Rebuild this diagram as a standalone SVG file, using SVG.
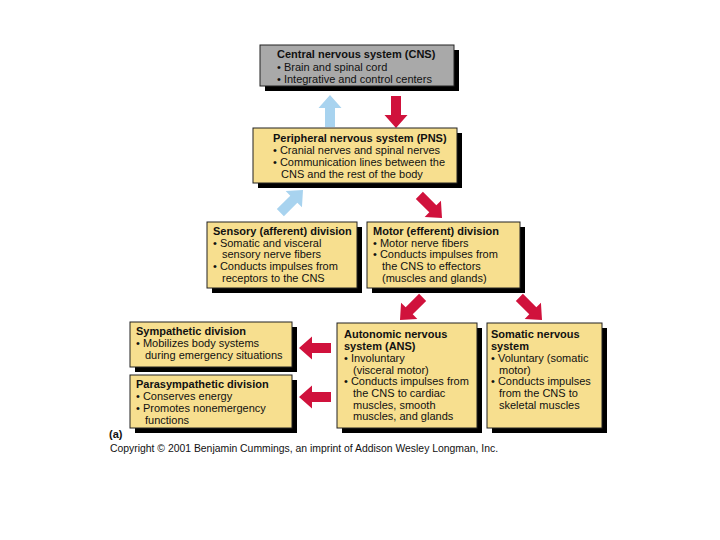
<svg xmlns="http://www.w3.org/2000/svg" xmlns:xlink="http://www.w3.org/1999/xlink" width="720" height="540" viewBox="0 0 720 540">
<style>
text{font-family:"Liberation Sans",Arial,sans-serif;font-size:11px;fill:#111}
.t{font-weight:bold}
.box{fill:#f7df8f;stroke:#222;stroke-width:1}
.gray{fill:#a9a9a9;stroke:#222;stroke-width:1}
.sh{fill:#000}
.red{fill:#d0123c}
.blue{fill:#a8d3ef}
</style>
<defs>
<polygon id="arr" points="0,0 -13,-11.5 -13,-5 -32,-5 -32,5 -13,5 -13,11.5"/>
</defs>
<rect width="720" height="540" fill="#fff"/>

<g id="connectors">
<use xlink:href="#arr" class="blue" transform="translate(330,95) rotate(-90)"/>
<use xlink:href="#arr" class="red" transform="translate(396,128) rotate(90)"/>
<use xlink:href="#arr" class="blue" transform="translate(303,190) rotate(-45)"/>
<use xlink:href="#arr" class="red" transform="translate(442,218) rotate(45)"/>
<use xlink:href="#arr" class="red" transform="translate(400,320) rotate(135)"/>
<use xlink:href="#arr" class="red" transform="translate(542,320) rotate(45)"/>
<use xlink:href="#arr" class="red" transform="translate(299,348) rotate(180)"/>
<use xlink:href="#arr" class="red" transform="translate(299,397) rotate(180)"/>
</g>

<g id="cns">
<rect class="sh" x="265" y="50" width="194" height="41"/>
<rect class="gray" x="260" y="45" width="194" height="41"/>
<text class="t" x="277" y="58">Central nervous system (CNS)</text>
<text x="277" y="71">• Brain and spinal cord</text>
<text x="277" y="83">• Integrative and control centers</text>
</g>

<g id="pns">
<rect class="sh" x="258" y="133" width="204" height="55"/>
<rect class="box" x="253" y="128" width="204" height="55"/>
<text class="t" x="273" y="142">Peripheral nervous system (PNS)</text>
<text x="273" y="154">• Cranial nerves and spinal nerves</text>
<text x="273" y="166">• Communication lines between the</text>
<text x="281" y="178">CNS and the rest of the body</text>
</g>

<g id="sensory">
<rect class="sh" x="212" y="227" width="150" height="66"/>
<rect class="box" x="207" y="222" width="150" height="66"/>
<text class="t" x="213" y="235">Sensory (afferent) division</text>
<text x="213" y="247">• Somatic and visceral</text>
<text x="222" y="258">sensory nerve fibers</text>
<text x="213" y="270">• Conducts impulses from</text>
<text x="222" y="282">receptors to the CNS</text>
</g>

<g id="motor">
<rect class="sh" x="372" y="227" width="153" height="66"/>
<rect class="box" x="367" y="222" width="153" height="66"/>
<text class="t" x="373" y="235">Motor (efferent) division</text>
<text x="373" y="247">• Motor nerve fibers</text>
<text x="373" y="258">• Conducts impulses from</text>
<text x="382" y="270">the CNS to effectors</text>
<text x="382" y="282">(muscles and glands)</text>
</g>

<g id="sympathetic">
<rect class="sh" x="135" y="327" width="162" height="45"/>
<rect class="box" x="130" y="322" width="162" height="45"/>
<text class="t" x="136" y="335">Sympathetic division</text>
<text x="136" y="347">• Mobilizes body systems</text>
<text x="145" y="359">during emergency situations</text>
</g>

<g id="parasympathetic">
<rect class="sh" x="135" y="380" width="162" height="53"/>
<rect class="box" x="130" y="375" width="162" height="53"/>
<text class="t" x="136" y="388">Parasympathetic division</text>
<text x="136" y="400">• Conserves energy</text>
<text x="136" y="412">• Promotes nonemergency</text>
<text x="145" y="424">functions</text>
</g>

<g id="ans">
<rect class="sh" x="342" y="328" width="140" height="105"/>
<rect class="box" x="337" y="323" width="140" height="105"/>
<text class="t" x="344" y="338">Autonomic nervous</text>
<text class="t" x="344" y="350">system (ANS)</text>
<text x="344" y="362">• Involuntary</text>
<text x="353" y="374">(visceral motor)</text>
<text x="344" y="385">• Conducts impulses from</text>
<text x="353" y="397">the CNS to cardiac</text>
<text x="353" y="409">muscles, smooth</text>
<text x="353" y="420">muscles, and glands</text>
</g>

<g id="somatic">
<rect class="sh" x="492" y="328" width="115" height="105"/>
<rect class="box" x="487" y="323" width="115" height="105"/>
<text class="t" x="491" y="338">Somatic nervous</text>
<text class="t" x="491" y="350">system</text>
<text x="491" y="362">• Voluntary (somatic</text>
<text x="499" y="374">motor)</text>
<text x="491" y="385">• Conducts impulses</text>
<text x="499" y="397">from the CNS to</text>
<text x="499" y="409">skeletal muscles</text>
</g>

<text class="t" x="109" y="438">(a)</text>
<text x="110" y="452" style="font-size:10.4px">Copyright © 2001 Benjamin Cummings, an imprint of Addison Wesley Longman, Inc.</text>
</svg>
